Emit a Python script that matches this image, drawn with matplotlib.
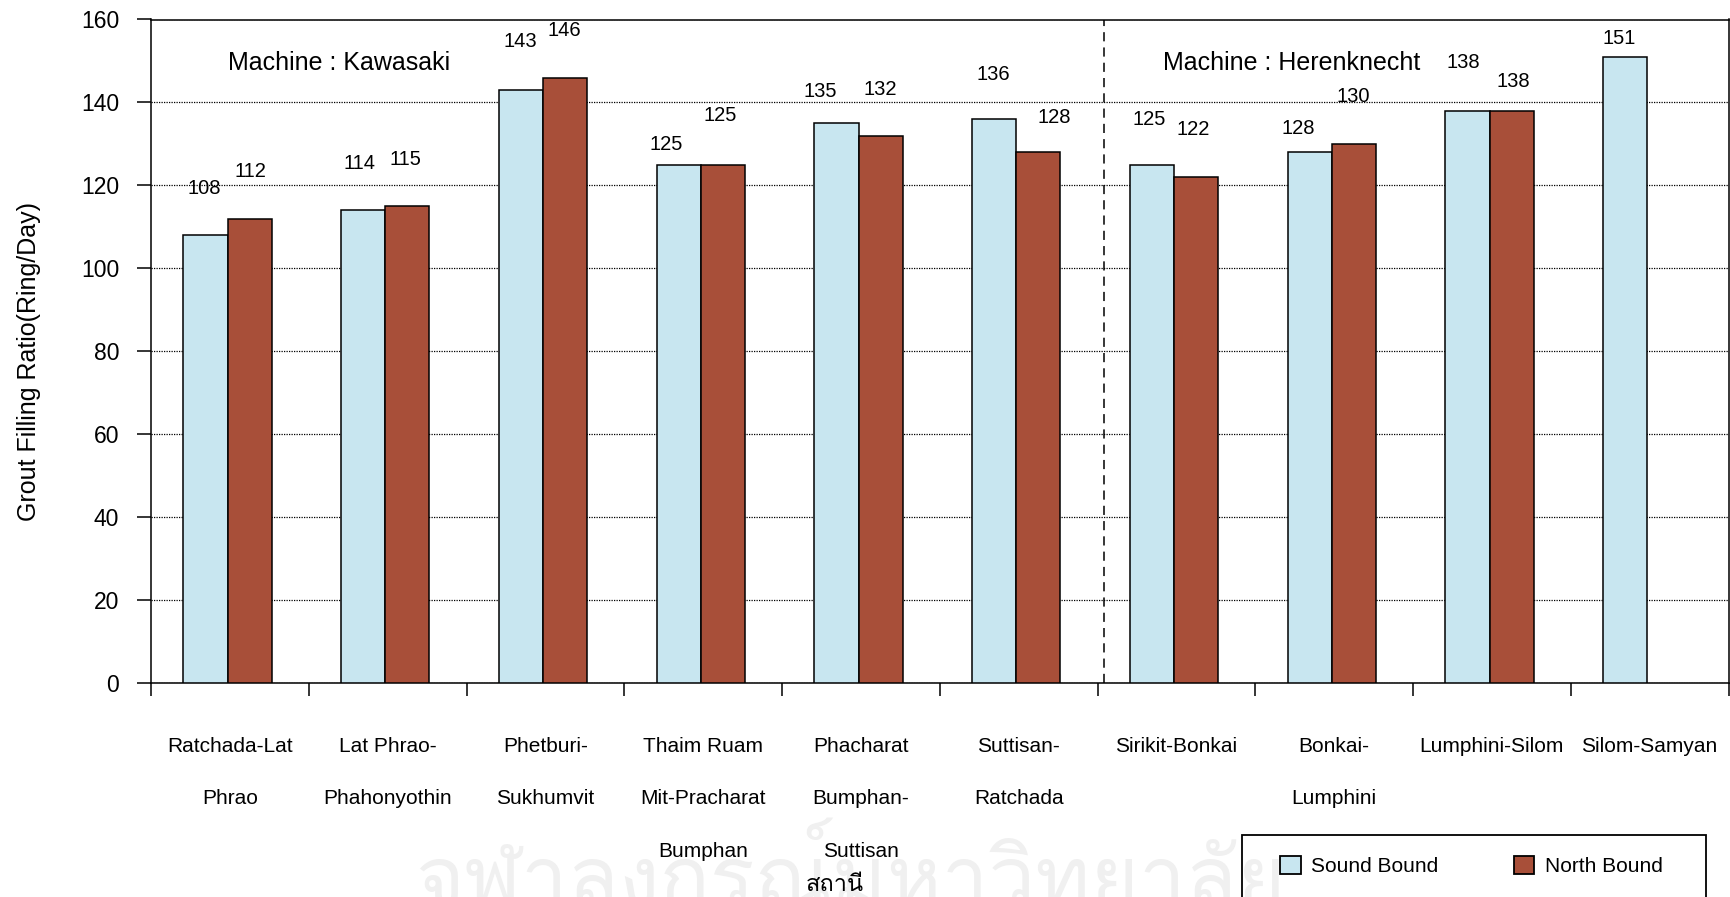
import numpy as np
import matplotlib
matplotlib.use("Agg")
import matplotlib.pyplot as plt
from matplotlib.patches import Patch, Rectangle
from matplotlib import font_manager, ft2font

# ---- data -------------------------------------------------------------
categories = [
    "Ratchada-Lat\nPhrao",
    "Lat Phrao-\nPhahonyothin",
    "Phetburi-\nSukhumvit",
    "Thaim Ruam\nMit-Pracharat\nBumphan",
    "Phacharat\nBumphan-\nSuttisan",
    "Suttisan-\nRatchada",
    "Sirikit-Bonkai",
    "Bonkai-\nLumphini",
    "Lumphini-Silom",
    "Silom-Samyan",
]
south_bound = [108, 114, 143, 125, 135, 136, 125, 128, 138, 151]
north_bound = [112, 115, 146, 125, 132, 128, 122, 130, 138, np.nan]
series_names = ["Sound Bound", "North Bound"]
machine_names = ["Machine : Kawasaki", "Machine : Herenknecht"]
y_ticks = [0, 20, 40, 60, 80, 100, 120, 140, 160]
y_label = "Grout Filling Ratio(Ring/Day)"
x_label = "สถานี"
footer = "จุฬาลงกรณ์มหาวิทยาลัย"

# value-label offsets (points) from the top centre of each bar
south_dx = [-2.8, -4.4, -2.0, -10.7, -13.1, -2.0, -3.6, -9.9, -4.4, -6.0]
south_dy = [33.7, 34.0, 34.9, 14.7, 23.0, 31.9, 32.2, 16.8, 34.7, 13.3]
north_dx = [-1.2, -2.8, -2.0, -3.6, -2.0, 9.9, -3.6, -2.0, -0.4, 0.0]
north_dy = [33.6, 33.4, 33.8, 35.4, 33.5, 24.8, 34.0, 33.9, 21.2, 0.0]

BLUE = "#C8E6F0"
BROWN = "#A84F39"
W, H = 1730, 897


def thai_family():
    for f in font_manager.fontManager.ttflist:
        try:
            ft = ft2font.FT2Font(f.fname)
            if all(ft.get_char_index(ord(c)) for c in "สถานี"):
                return f.name
        except Exception:
            continue
    return "DejaVu Sans"


plt.rcParams["font.family"] = ["Liberation Sans", "DejaVu Sans"]
thai = thai_family()

fig = plt.figure(figsize=(W / 100, H / 100), dpi=100)
ax = fig.add_axes([151 / W, 1 - 683 / H, (1728.5 - 151) / W, (683 - 19.5) / H])
ax.patch.set_alpha(0)

x = np.arange(len(categories))
bw = 0.28
ax.bar(x - bw / 2 - 0.015, south_bound, width=bw, color=BLUE,
       edgecolor="black", linewidth=1.1, zorder=3)
ax.bar(x + bw / 2 - 0.015, north_bound, width=bw, color=BROWN,
       edgecolor="black", linewidth=1.1, zorder=3)

for i in range(len(categories)):
    ax.annotate(f"{south_bound[i]:g}", xy=(x[i] - bw / 2, south_bound[i]),
                xytext=(south_dx[i], south_dy[i]), textcoords="offset points",
                ha="center", va="center", fontsize=14.5, zorder=5)
    if not np.isnan(north_bound[i]):
        ax.annotate(f"{north_bound[i]:g}", xy=(x[i] + bw / 2, north_bound[i]),
                    xytext=(north_dx[i], north_dy[i]), textcoords="offset points",
                    ha="center", va="center", fontsize=14.5, zorder=5)

ax.set_xlim(-0.5, len(categories) - 0.5)
ax.set_ylim(0, 160)
ax.set_yticks(y_ticks)
ax.yaxis.grid(True, color="black", linestyle=(0, (1, 1)), linewidth=0.9)
ax.set_axisbelow(True)

# machine split
ax.axvline(5.54, color="black", linestyle=(0, (6, 4)), linewidth=1.1, zorder=2)
ax.text(0.119, 0.935, machine_names[0], transform=ax.transAxes,
        ha="center", va="center", fontsize=18)
ax.text(0.723, 0.935, machine_names[1], transform=ax.transAxes,
        ha="center", va="center", fontsize=18)

ax.set_xticks(np.arange(-0.5, len(categories), 1))
ax.set_xticklabels([])
ax.set_xticks(x, categories, minor=True)
ax.tick_params(axis="x", which="major", direction="out", length=9, width=1.1)
ax.tick_params(axis="x", which="minor", length=0, pad=39, labelsize=15)
for lbl in ax.get_xticklabels(minor=True):
    lbl.set_linespacing(3.22)
    lbl.set_multialignment("center")
ax.tick_params(axis="y", direction="out", length=10, width=1.1, pad=13,
               labelsize=16.5)
for s in ax.spines.values():
    s.set_linewidth(1.1)

fig.text(28.7 / W, 1 - 361 / H, y_label, rotation=90, ha="center",
         va="center", fontsize=18)
fig.text(835 / W, 1 - 884 / H, x_label, ha="center", va="center",
         fontsize=17, family=[thai, "DejaVu Sans"])
fig.text(850 / W, 1 - 818 / H, footer, ha="center", va="top", fontsize=60,
         color="#F0F0F0", family=[thai, "DejaVu Sans"], zorder=0)

# legend
fig.add_artist(Rectangle((1242 / W, 1 - 930 / H), (1706 - 1242) / W,
                         (930 - 835) / H, transform=fig.transFigure,
                         fill=False, edgecolor="black", linewidth=1.3,
                         clip_on=False))
handles = [Patch(facecolor=BLUE, edgecolor="black", linewidth=1.3),
           Patch(facecolor=BROWN, edgecolor="black", linewidth=1.3)]
fig.legend(handles=handles, labels=series_names, loc="center left",
           bbox_to_anchor=(1280 / W, 1 - 866 / H), ncol=2, frameon=False,
           fontsize=15, handlelength=1.0, handleheight=1.0,
           handletextpad=0.5, columnspacing=3.6, borderpad=0,
           borderaxespad=0)

fig.savefig("out.png", dpi=100)
